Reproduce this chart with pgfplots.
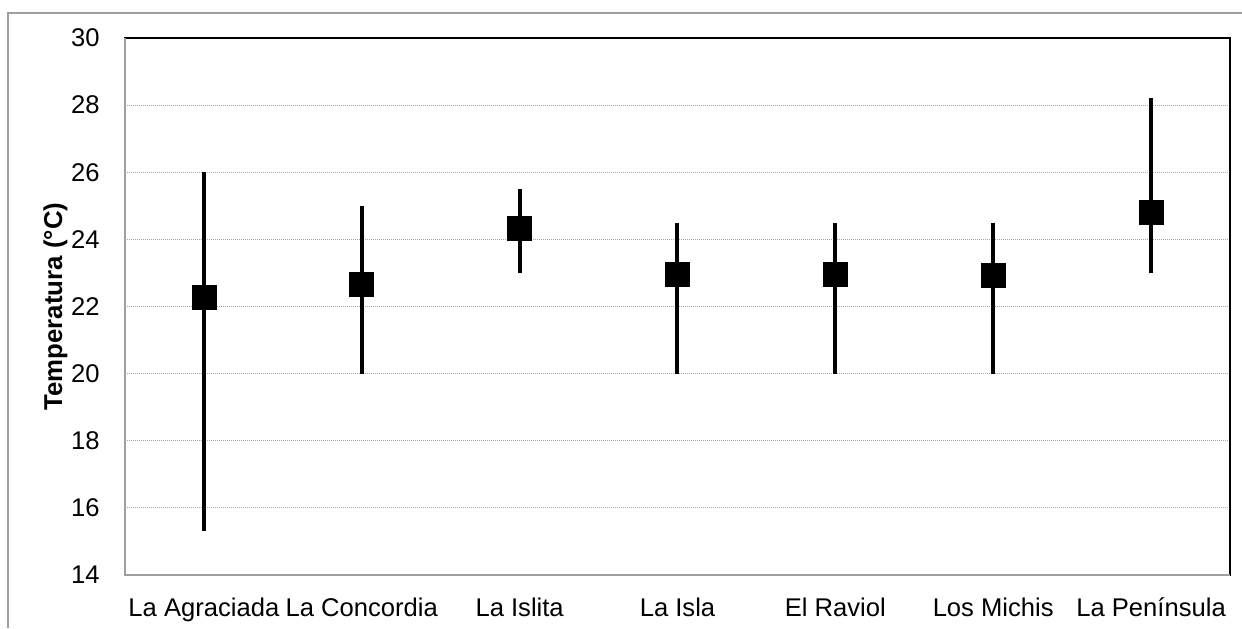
\documentclass[border=0pt]{standalone}
\usepackage{pgfplots}
\pgfplotsset{compat=1.18}
\usepackage{pgfplotstable}
\usepackage{fontspec}
\setmainfont{Liberation Sans}

% mean, minimum and maximum temperature at each site
\pgfplotstableread{
x mean lo hi
0 22.26 15.3 26.0
1 22.67 20.0 25.0
2 24.32 23.0 25.5
3 22.96 20.0 24.5
4 22.95 20.0 24.5
5 22.92 20.0 24.5
6 24.80 23.0 28.2
}\temps

\begin{document}
\begin{tikzpicture}
\useasboundingbox (-62.5pt,-26.5pt) rectangle (558.5pt,287.5pt);
% outer chart frame
\draw[gray!75, line width=0.75pt] (-58.5pt,-26.5pt) -- (-58.5pt,281pt) -- (558.5pt,281pt);
\begin{axis}[
  at={(0,0)}, anchor=south west,
  scale only axis, width=552.5pt, height=268.5pt,
  xmin=-0.5, xmax=6.5, ymin=14, ymax=30,
  xtick={0,...,6},
  xticklabels={La Agraciada, La Concordia, La Islita, La Isla, El Raviol, Los Michis, La Península},
  ytick={14,16,...,30},
  major tick length=0pt,
  ymajorgrids,
  grid style={gray!70, dash pattern=on 0.5pt off 0.5pt, line width=0.5pt},
  axis line style={black, line width=0.75pt},
  tick label style={font=\fontsize{12.8}{15}\selectfont},
  /pgf/number format/assume math mode=true,
  yticklabel style={anchor=east, inner sep=0pt, xshift=-12.5pt},
  xticklabel style={anchor=north, inner sep=0pt, yshift=-11.5pt, text height=9.2pt, text depth=2.7pt},
  ylabel={Temperatura (°C)},
  ylabel style={at={(axis description cs:-0.063,0.5)}, anchor=center,
    font=\fontsize{12.9}{15}\selectfont\bfseries},
  after end axis/.code={
    \draw[gray!75, line width=0.75pt] (rel axis cs:0,1) -- (rel axis cs:0,0) -- (rel axis cs:1,0);
  },
]
\addplot[only marks, mark=square*, mark size=6pt, black,
  error bars/.cd, y dir=both, y explicit, error mark=none,
  error bar style={line width=2pt, black}]
  table[x=x, y=mean,
        y error plus expr=\thisrow{hi}-\thisrow{mean},
        y error minus expr=\thisrow{mean}-\thisrow{lo}] {\temps};
\end{axis}
\end{tikzpicture}
\end{document}
